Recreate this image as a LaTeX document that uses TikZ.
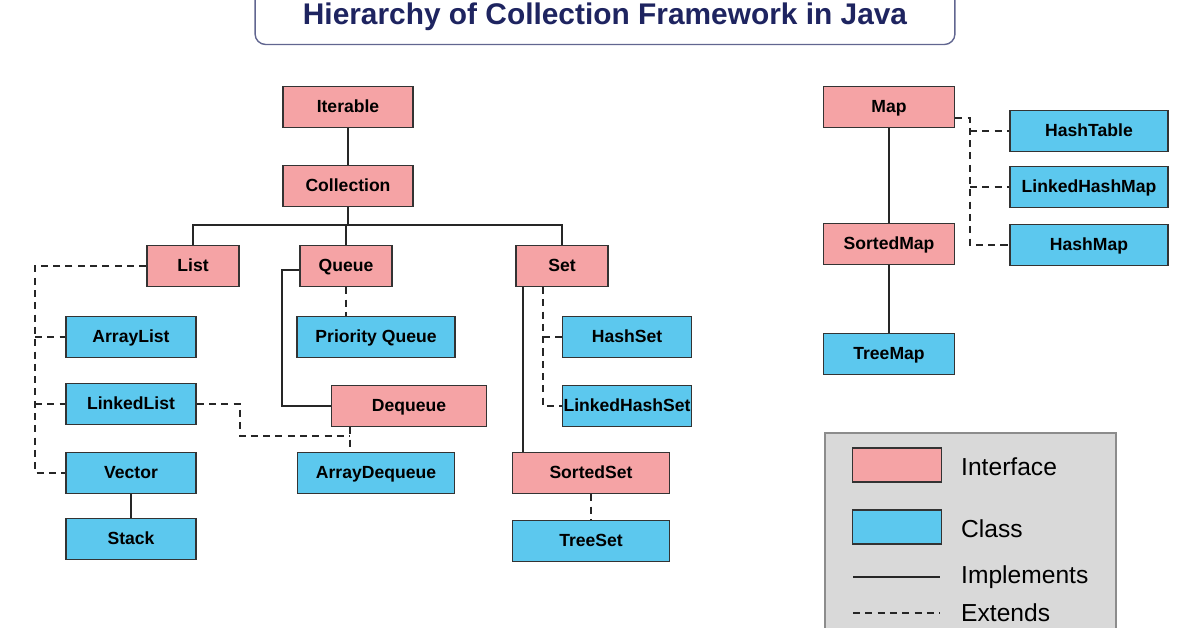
\documentclass[tikz,border=0pt]{standalone}
\usepackage{fontspec}
\setmainfont{Liberation Sans}
\begin{document}
\begin{tikzpicture}[x=0.02cm,y=-0.02cm,
 box/.style={draw=black!80,line width=0.9pt,font=\bfseries\fontsize{10}{12}\selectfont,inner sep=0pt,minimum height=0.82cm,text height=1.55ex,text depth=0.4ex},
 intf/.style={box,fill=pinkc},
 cls/.style={box,fill=bluec},
 impl/.style={line width=1pt,black!85},
 ext/.style={line width=1pt,black!85,dash pattern=on 4pt off 3pt}]
\definecolor{pinkc}{HTML}{F5A3A5}
\definecolor{bluec}{HTML}{5CC8EE}
\definecolor{navy}{HTML}{1E2460}
\useasboundingbox (0,0) rectangle (1196,628);
\fill[white] (0,0) rectangle (1196,628);
% title
\node[draw=navy!70,rounded corners=6pt,line width=0.8pt,minimum width=14cm,minimum height=1.1cm,text=navy,font=\bfseries\fontsize{17}{20}\selectfont] (title) at (605,17) {Hierarchy of Collection Framework in Java};
% nodes
\node[intf,minimum width=2.6cm] (it) at (348,107) {Iterable};
\node[intf,minimum width=2.6cm] (co) at (348,186) {Collection};
\node[intf,minimum width=1.84cm] (li) at (193,266) {List};
\node[intf,minimum width=1.84cm] (qu) at (346,266) {Queue};
\node[intf,minimum width=1.84cm] (se) at (562,266) {Set};
\node[cls,minimum width=2.6cm] (al) at (131,337) {ArrayList};
\node[cls,minimum width=3.16cm] (pq) at (376,337) {Priority Queue};
\node[cls,minimum width=2.58cm] (hs) at (627,337) {HashSet};
\node[cls,minimum width=2.6cm] (ll) at (131,404) {LinkedList};
\node[intf,minimum width=3.1cm] (dq) at (409,406) {Dequeue};
\node[cls,minimum width=2.58cm] (lhs) at (627,406) {LinkedHashSet};
\node[cls,minimum width=2.6cm] (ve) at (131,473) {Vector};
\node[cls,minimum width=3.14cm] (ad) at (376,473) {ArrayDequeue};
\node[intf,minimum width=3.14cm] (ss) at (591,473) {SortedSet};
\node[cls,minimum width=2.6cm] (st) at (131,539) {Stack};
\node[cls,minimum width=3.14cm] (ts) at (591,541) {TreeSet};
\node[intf,minimum width=2.62cm] (ma) at (889,107) {Map};
\node[cls,minimum width=3.16cm] (ht) at (1089,131) {HashTable};
\node[cls,minimum width=3.16cm] (lhm) at (1089,187) {LinkedHashMap};
\node[cls,minimum width=3.16cm] (hm) at (1089,245) {HashMap};
\node[intf,minimum width=2.62cm] (sm) at (889,244) {SortedMap};
\node[cls,minimum width=2.62cm] (tm) at (889,354) {TreeMap};
% connectors
\draw[impl] (it) -- (co);
\coordinate (cj) at (348,225);
\draw[impl] (co) -- (cj);
\draw[impl] (li.north) |- (cj) -| (se.north);
\draw[impl] (cj -| qu.north) -- (qu.north);
\coordinate (lj) at (35,266);
\draw[ext] (li.west) -- (lj) |- (ve.west);
\draw[ext] (lj |- al.west) -- (al.west);
\draw[ext] (lj |- ll.west) -- (ll.west);
\draw[ext] (qu.south) -- (qu.south |- pq.north);
\coordinate (qj) at (282,270);
\draw[impl] (qu.west |- qj) -- (qj) |- (dq.west);
\coordinate (dj) at (350,436);
\draw[ext] (dj |- dq.south) -- (dj |- ad.north);
\draw[ext] (ll.east) -| (240,436) -- (dj);
\draw[impl] (523,287) -- (523,452);
\coordinate (sj) at (543,287);
\draw[ext] (sj) |- (lhs.west);
\draw[ext] (543,337) -- (hs.west);
\draw[ext] (ss) -- (ts);
\draw[impl] (ve) -- (st);
\draw[impl] (ma) -- (sm);
\draw[impl] (sm) -- (tm);
\coordinate (mj) at (970,118);
\draw[ext] (ma.east |- mj) -- (mj) |- (hm.west);
\draw[ext] (mj |- ht.west) -- (ht.west);
\draw[ext] (mj |- lhm.west) -- (lhm.west);
% legend
\draw[fill=black!15,draw=black!45,line width=1pt] (825,433) rectangle (1116,640);
\node[draw=black!80,fill=pinkc,line width=0.9pt,minimum width=1.78cm,minimum height=0.68cm,inner sep=0pt] (lp) at (897,465) {};
\node[draw=black!80,fill=bluec,line width=0.9pt,minimum width=1.78cm,minimum height=0.68cm,inner sep=0pt] (lb) at (897,527) {};
\node[anchor=west,font=\fontsize{14}{16}\selectfont] (t1) at (955,467) {Interface};
\node[anchor=west,font=\fontsize{14}{16}\selectfont] (t2) at (955,529) {Class};
\node[anchor=west,font=\fontsize{14}{16}\selectfont] (t3) at (955,577) {Implements};
\node[anchor=west,font=\fontsize{14}{16}\selectfont] (t4) at (955,613) {Extends};
\coordinate (a1) at (853,577); \coordinate (a2) at (940,577);
\coordinate (b1) at (853,613); \coordinate (b2) at (940,613);
\draw[impl,line width=1.5pt] (a1) -- (a2);
\draw[ext,line width=1.5pt] (b1) -- (b2);
\end{tikzpicture}
\end{document}
